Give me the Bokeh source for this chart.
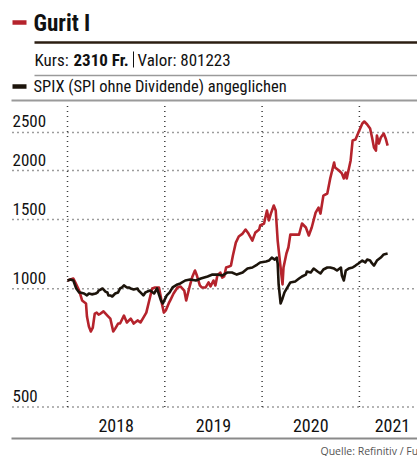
from bokeh.plotting import figure
from bokeh.models import Range1d, LinearScale
from bokeh.embed import file_html
from bokeh.resources import INLINE
from bokeh.core.properties import value

# ---- data (decimal years, CHF) ----
gurit_t = [2018.00, 2018.03, 2018.06, 2018.08, 2018.12, 2018.15, 2018.19, 2018.20, 2018.22, 2018.24,
           2018.26, 2018.28, 2018.30, 2018.32, 2018.34, 2018.37, 2018.41, 2018.44, 2018.47, 2018.49,
           2018.52, 2018.54, 2018.58, 2018.61, 2018.65, 2018.68, 2018.72, 2018.75, 2018.78, 2018.81,
           2018.84, 2018.87, 2018.90, 2018.94, 2018.96, 2018.97, 2018.99, 2019.01, 2019.04, 2019.06,
           2019.09, 2019.13, 2019.16, 2019.20, 2019.22, 2019.25, 2019.28, 2019.31, 2019.33, 2019.36,
           2019.38, 2019.42, 2019.45, 2019.47, 2019.50, 2019.52, 2019.54, 2019.57, 2019.59, 2019.61,
           2019.63, 2019.66, 2019.68, 2019.70, 2019.73, 2019.76, 2019.80, 2019.83, 2019.86, 2019.90,
           2019.93, 2019.97, 2019.98, 2020.02, 2020.05, 2020.07, 2020.09, 2020.12, 2020.14, 2020.16,
           2020.19, 2020.21, 2020.22, 2020.25, 2020.27, 2020.29, 2020.33, 2020.38, 2020.41, 2020.45,
           2020.48, 2020.51, 2020.55, 2020.58, 2020.60, 2020.63, 2020.67, 2020.70, 2020.74, 2020.75,
           2020.79, 2020.82, 2020.84, 2020.86, 2020.87, 2020.91, 2020.93, 2020.96, 2020.99, 2021.03,
           2021.05, 2021.08, 2021.11, 2021.13, 2021.15, 2021.17, 2021.18, 2021.20, 2021.22, 2021.25,
           2021.27, 2021.29]
gurit_v = [1050, 1056, 1062, 1038, 990, 934, 918, 850, 802, 779,
           797, 865, 870, 860, 865, 876, 855, 840, 779, 792,
           816, 816, 855, 821, 840, 816, 831, 821, 845, 870,
           934, 1002, 1008, 1008, 950, 918, 870, 881, 918, 939,
           973, 1008, 1014, 990, 934, 1002, 1068, 1113, 1081, 1020,
           1008, 1008, 1038, 1014, 1050, 1020, 1081, 1100, 1068, 1075,
           1133, 1139, 1146, 1215, 1311, 1359, 1382, 1415, 1382, 1327,
           1390, 1415, 1449, 1466, 1582, 1492, 1554, 1629, 1582, 1327,
           1133, 1026, 1133, 1230, 1274, 1374, 1374, 1374, 1466, 1432,
           1367, 1432, 1563, 1610, 1554, 1727, 1748, 1909, 2096, 2035,
           2000, 1966, 1909, 1977, 1909, 2121, 2384, 2398, 2498, 2634,
           2665, 2619, 2558, 2427, 2288, 2248, 2455, 2342, 2427, 2484,
           2413, 2315]

spix_t = [2018.00, 2018.03, 2018.06, 2018.09, 2018.12, 2018.13, 2018.17, 2018.20, 2018.22, 2018.25,
          2018.29, 2018.31, 2018.32, 2018.36, 2018.39, 2018.41, 2018.42, 2018.44, 2018.46, 2018.49,
          2018.52, 2018.54, 2018.56, 2018.58, 2018.61, 2018.63, 2018.65, 2018.68, 2018.72, 2018.73,
          2018.75, 2018.78, 2018.80, 2018.82, 2018.85, 2018.89, 2018.92, 2018.96, 2018.98, 2019.02,
          2019.05, 2019.08, 2019.13, 2019.16, 2019.21, 2019.26, 2019.32, 2019.37, 2019.44, 2019.49,
          2019.54, 2019.59, 2019.64, 2019.69, 2019.74, 2019.80, 2019.85, 2019.90, 2019.95, 2019.98,
          2020.04, 2020.07, 2020.10, 2020.13, 2020.15, 2020.16, 2020.17, 2020.19, 2020.21, 2020.23,
          2020.26, 2020.29, 2020.34, 2020.38, 2020.41, 2020.45, 2020.46, 2020.50, 2020.53, 2020.57,
          2020.60, 2020.63, 2020.67, 2020.70, 2020.74, 2020.77, 2020.81, 2020.82, 2020.84, 2020.86,
          2020.89, 2020.93, 2020.96, 2020.99, 2021.03, 2021.06, 2021.08, 2021.11, 2021.13, 2021.15,
          2021.18, 2021.22, 2021.25, 2021.29]
spix_v = [1050, 1056, 1050, 1002, 979, 979, 973, 962, 973, 968,
          973, 979, 990, 1002, 984, 979, 962, 962, 956, 973,
          979, 1002, 1008, 1020, 1008, 1008, 1002, 996, 1002, 990,
          979, 962, 979, 984, 990, 973, 1002, 934, 918, 962,
          979, 1008, 1026, 1032, 1050, 1056, 1050, 1062, 1075, 1087,
          1087, 1081, 1100, 1100, 1087, 1100, 1126, 1133, 1153, 1167,
          1174, 1180, 1201, 1187, 1201, 1160, 1026, 918, 945, 979,
          1008, 1038, 1044, 1062, 1075, 1087, 1107, 1100, 1126, 1107,
          1094, 1120, 1133, 1133, 1126, 1113, 1133, 1081, 1050, 1113,
          1126, 1133, 1146, 1160, 1180, 1167, 1187, 1180, 1160, 1146,
          1180, 1201, 1223, 1230]

y_ticks = [500, 1000, 1500, 2000, 2500]
year_grid = [2018, 2019, 2020, 2021]
year_label_pos = [2018.5, 2019.5, 2020.5, 2021.34]
year_labels = ["2018", "2019", "2020", "2021"]

RED = "#b5232c"
BLACK = "#1c140b"
FONT = "'Roboto Condensed', 'Noto Sans Condensed', 'DejaVu Sans Condensed', 'Liberation Sans Narrow', Roboto, sans-serif"
GRID = "#3a3a3a"

W, H = 417, 456
# chart geometry: x in decimal years, y log scale; whole canvas is the frame
X_MIN, X_MAX = 2017.3114, 2021.5971
Y_MIN, Y_MAX = 374.4, 5415.2
CHART_LEFT, CHART_RIGHT, CHART_TOP = 2017.4347, 2021.62, 2960

p = figure(width=W, height=H, output_backend="svg", toolbar_location=None,
           y_axis_type="log", x_axis_location=None, y_axis_location=None,
           x_range=Range1d(X_MIN, X_MAX), y_range=Range1d(Y_MIN, Y_MAX),
           min_border=0)
p.extra_x_ranges = {"px": Range1d(0, W)}
p.extra_y_ranges = {"px": Range1d(H, 0)}
p.extra_x_scales = {"px": LinearScale()}
p.extra_y_scales = {"px": LinearScale()}
p.outline_line_color = None
p.border_fill_color = "white"
p.background_fill_color = "white"
p.xgrid.visible = False
p.ygrid.visible = False

# dotted grid lines (limited to the chart area)
p.segment(x0=year_grid, y0=[y_ticks[0]] * len(year_grid), x1=year_grid,
          y1=[CHART_TOP] * len(year_grid), line_color=GRID, line_width=1.5, line_dash="1 4")
p.segment(x0=[CHART_LEFT] * len(y_ticks), y0=y_ticks, x1=[CHART_RIGHT] * len(y_ticks),
          y1=y_ticks, line_color=GRID, line_width=1.5, line_dash="1 4")

# y labels inside plot (above their grid line), year labels below
p.text(x=[CHART_LEFT] * len(y_ticks), y=y_ticks, text=[str(v) for v in y_ticks],
       text_font=value(FONT), text_font_size="17px", text_color="#111111",
       text_baseline="middle", text_align="left", y_offset=-11)
p.text(x=year_label_pos, y=[y_ticks[0]] * len(year_label_pos), text=year_labels,
       text_font=value(FONT), text_font_size="18px", text_color="#111111",
       text_baseline="middle", text_align="center", y_offset=18)

# series
p.line(gurit_t, gurit_v, line_color=RED, line_width=2.6, line_join="round")
p.line(spix_t, spix_v, line_color=BLACK, line_width=2.6, line_join="round")

# ---- header / footer decorations (pixel coordinates) ----
def hline(x0, x1, y, w, color):
    p.segment(x0=[x0], y0=[y], x1=[x1], y1=[y], line_color=color, line_width=w,
              x_range_name="px", y_range_name="px")

def vline(x, y0, y1, w, color):
    p.segment(x0=[x], y0=[y0], x1=[x], y1=[y1], line_color=color, line_width=w,
              x_range_name="px", y_range_name="px")

def lab(text, x, y, size, bold=False, color="#111111", font=FONT, baseline="middle"):
    p.text(x=[x], y=[y], text=[text], text_font=value(font), text_font_size=size,
           text_color=color, text_font_style="bold" if bold else "normal",
           text_baseline=baseline, text_align="left", x_range_name="px", y_range_name="px")

hline(12, 26, 22, 4.5, RED)
lab("Gurit I", 33, 23, "23px", bold=True)
hline(34, 417, 42, 2.5, "#2b1e12")
lab("Kurs:", 34, 59, "17px")
lab("2310 Fr.", 73, 59, "17px", bold=True)
vline(133, 51, 67, 1, "#111111")
lab("Valor: 801223", 137, 59, "17px")
hline(34, 417, 75, 1.5, "#9a9a9a")
hline(12, 26, 86, 4.5, BLACK)
lab("SPIX (SPI ohne Dividende) angeglichen", 33, 86, "16.5px")
hline(11, 417, 100, 2, "#9a9a9a")

hline(11, 417, 438, 2, "#8a8a8a")
lab("Quelle: Refinitiv / FuW", 320, 450, "10.5px", color="#555555", font="Open Sans")

open("out.html", "w").write(file_html(p, INLINE))
